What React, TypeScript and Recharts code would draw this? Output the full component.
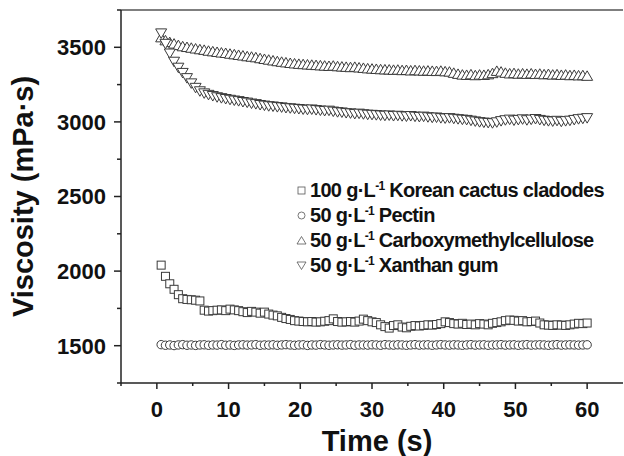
import React from 'react';
import { ScatterChart, Scatter, XAxis, YAxis, ReferenceLine } from 'recharts';

const time = [
  0.6, 1.2, 1.8, 2.4, 3, 3.6, 4.2, 4.8, 5.4, 6,
  6.6, 7.2, 7.8, 8.4, 9, 9.6, 10.2, 10.8, 11.4, 12,
  12.6, 13.2, 13.8, 14.4, 15, 15.6, 16.2, 16.8, 17.4, 18,
  18.6, 19.2, 19.8, 20.4, 21, 21.6, 22.2, 22.8, 23.4, 24,
  24.6, 25.2, 25.8, 26.4, 27, 27.6, 28.2, 28.8, 29.4, 30,
  30.6, 31.2, 31.8, 32.4, 33, 33.6, 34.2, 34.8, 35.4, 36,
  36.6, 37.2, 37.8, 38.4, 39, 39.6, 40.2, 40.8, 41.4, 42,
  42.6, 43.2, 43.8, 44.4, 45, 45.6, 46.2, 46.8, 47.4, 48,
  48.6, 49.2, 49.8, 50.4, 51, 51.6, 52.2, 52.8, 53.4, 54,
  54.6, 55.2, 55.8, 56.4, 57, 57.6, 58.2, 58.8, 59.4, 60,
];

const cactus = [
  2040, 1965, 1915, 1878, 1842, 1815, 1810, 1808, 1805, 1800,
  1738, 1732, 1735, 1738, 1740, 1735, 1745, 1740, 1735, 1728,
  1722, 1730, 1725, 1718, 1725, 1712, 1705, 1700, 1690, 1682,
  1676, 1668, 1665, 1662, 1660, 1662, 1658, 1660, 1664, 1668,
  1680, 1662, 1658, 1660, 1662, 1658, 1665, 1678, 1668, 1660,
  1655, 1640, 1628, 1618, 1635, 1640, 1625, 1620, 1630, 1635,
  1632, 1636, 1640, 1638, 1642, 1648, 1660, 1655, 1648, 1645,
  1650, 1642, 1645, 1640, 1648, 1645, 1640, 1650, 1655, 1660,
  1668, 1672, 1670, 1665, 1668, 1660, 1662, 1665, 1652, 1640,
  1638, 1636, 1640, 1638, 1636, 1640, 1645, 1650, 1648, 1652,
];

const pectin = [
  1507, 1503, 1505, 1501, 1505, 1507, 1503, 1505, 1502, 1505,
  1506, 1503, 1505, 1504, 1507, 1503, 1505, 1502, 1505, 1506,
  1504, 1505, 1507, 1503, 1505, 1504, 1506, 1503, 1505, 1507,
  1505, 1503, 1505, 1506, 1502, 1505, 1504, 1507, 1505, 1503,
  1505, 1506, 1504, 1505, 1507, 1503, 1505, 1505, 1504, 1506,
  1505, 1503, 1507, 1505, 1504, 1506, 1505, 1503, 1505, 1507,
  1504, 1505, 1506, 1503, 1505, 1507, 1505, 1504, 1506, 1505,
  1503, 1505, 1507, 1504, 1505, 1506, 1503, 1505, 1505, 1507,
  1504, 1505, 1506, 1503, 1505, 1507, 1504, 1505, 1506, 1505,
  1503, 1505, 1507, 1504, 1505, 1506, 1505, 1504, 1505, 1506,
];

const cmc = [
  3560, 3540, 3528, 3518, 3508, 3500, 3495, 3490, 3485, 3480,
  3476, 3470, 3466, 3462, 3458, 3455, 3450, 3446, 3442, 3438,
  3433, 3430, 3426, 3420, 3415, 3410, 3405, 3400, 3396, 3392,
  3388, 3385, 3382, 3380, 3378, 3376, 3374, 3372, 3370, 3368,
  3370, 3366, 3364, 3362, 3360, 3362, 3358, 3355, 3352, 3350,
  3348, 3346, 3345, 3344, 3342, 3343, 3340, 3341, 3338, 3340,
  3338, 3336, 3337, 3335, 3334, 3336, 3332, 3330, 3322, 3315,
  3310, 3308, 3312, 3306, 3310, 3308, 3312, 3320, 3335, 3330,
  3322, 3318, 3320, 3316, 3318, 3315, 3318, 3314, 3316, 3312,
  3314, 3310, 3312, 3308, 3310, 3306, 3308, 3305, 3306, 3302,
];

const xanthan = [
  3600, 3530, 3465, 3410, 3370, 3335, 3300, 3265, 3235, 3212,
  3198, 3188, 3180, 3172, 3166, 3160, 3155, 3150, 3146, 3140,
  3136, 3130, 3126, 3120, 3116, 3112, 3110, 3106, 3104, 3100,
  3098, 3095, 3093, 3090, 3088, 3090, 3086, 3083, 3080, 3082,
  3076, 3072, 3070, 3066, 3064, 3060, 3062, 3058, 3055, 3054,
  3052, 3050, 3048, 3050, 3046, 3048, 3045, 3043, 3046, 3042,
  3040, 3042, 3038, 3035, 3036, 3032, 3030, 3032, 3028, 3025,
  3022, 3020, 3015, 3010, 3005, 3002, 3000, 2998, 3004, 3012,
  3018, 3022, 3016, 3020, 3024, 3018, 3022, 3026, 3020, 3015,
  3012, 3010, 3014, 3008, 3012, 3015, 3020, 3025, 3028, 3032,
];

const xTicks = [-5, 0, 5, 10, 15, 20, 25, 30, 35, 40, 45, 50, 55, 60];
const yTicks = [1250, 1500, 1750, 2000, 2250, 2500, 2750, 3000, 3250, 3500, 3750];

const FONT = '"Liberation Sans", Arial, sans-serif';
const MARK = '#3a3a3a';
const AXIS = '#222';

const toPoints = (vals: number[]) => time.map((t, i) => ({ t, v: vals[i] }));

// marker shapes (cx/cy come from the scatter's scales)
const Square = (p: any) => (
  <rect x={p.cx - 4} y={p.cy - 4} width={8} height={8} fill="#fff" stroke={MARK} strokeWidth={1} />
);
const Circle = (p: any) => <circle cx={p.cx} cy={p.cy} r={4.2} fill="#fff" stroke={MARK} strokeWidth={1} />;
const TriUp = (p: any) => (
  <polygon
    points={`${p.cx},${p.cy - 6} ${p.cx + 5.5},${p.cy + 3.5} ${p.cx - 5.5},${p.cy + 3.5}`}
    fill="#fff"
    stroke={MARK}
    strokeWidth={1}
  />
);
const TriDown = (p: any) => (
  <polygon
    points={`${p.cx - 5.5},${p.cy - 3.5} ${p.cx + 5.5},${p.cy - 3.5} ${p.cx},${p.cy + 6}`}
    fill="#fff"
    stroke={MARK}
    strokeWidth={1}
  />
);

const XTick = ({ x, y, payload }: any) => {
  const major = payload.value % 10 === 0;
  return (
    <g>
      <line x1={x} y1={y} x2={x} y2={y + (major ? 6 : 3)} stroke={AXIS} strokeWidth={1.5} />
      {major && (
        <text x={x} y={y + 18} dy="0.71em" textAnchor="middle" fontSize={22} fontWeight="bold" fontFamily={FONT} fill="#111">
          {payload.value}
        </text>
      )}
    </g>
  );
};

const YTick = ({ x, y, payload }: any) => {
  const major = payload.value % 500 === 0;
  return (
    <g>
      <line x1={x} y1={y} x2={x - (major ? 7 : 4)} y2={y} stroke={AXIS} strokeWidth={1.5} />
      {major && (
        <text x={x - 15} y={y} dy="0.355em" textAnchor="end" fontSize={22} fontWeight="bold" fontFamily={FONT} fill="#111">
          {payload.value}
        </text>
      )}
    </g>
  );
};

const legendRows = [
  { conc: '100', name: 'Korean cactus cladodes', icon: 'square' },
  { conc: '50', name: 'Pectin', icon: 'circle' },
  { conc: '50', name: 'Carboxymethylcellulose', icon: 'up' },
  { conc: '50', name: 'Xanthan gum', icon: 'down' },
];

const LegendIcon = ({ icon }: { icon: string }) => (
  <svg width={9} height={9} style={{ marginRight: 4, overflow: 'visible' }}>
    {icon === 'square' && <rect x={1} y={1} width={7} height={7} fill="#fff" stroke="#555" strokeWidth={0.8} />}
    {icon === 'circle' && <circle cx={4.5} cy={4.5} r={3.5} fill="#fff" stroke="#555" strokeWidth={0.8} />}
    {icon === 'up' && <polygon points="4.5,0.5 9,8 0,8" fill="#fff" stroke="#555" strokeWidth={0.8} />}
    {icon === 'down' && <polygon points="0,1 9,1 4.5,8.5" fill="#fff" stroke="#555" strokeWidth={0.8} />}
  </svg>
);

export default function App() {
  return (
    <div style={{ position: 'absolute', left: 0, top: 0, width: 624, height: 456, background: '#fff', fontFamily: FONT }}>
      <ScatterChart width={624} height={456} margin={{ top: 10, right: 1, bottom: 0, left: 0 }}>
        <XAxis
          dataKey="t"
          type="number"
          domain={[-5, 65]}
          ticks={xTicks}
          interval={0}
          height={73}
          tickSize={0}
          tickMargin={0}
          tickLine={false}
          tick={XTick}
          axisLine={{ stroke: AXIS, strokeWidth: 1.5 }}
          allowDataOverflow
          label={{
            value: 'Time (s)',
            position: 'insideBottom',
            offset: 5,
            dx: 5,
            style: { fontSize: 29, fontWeight: 'bold', fill: '#111', fontFamily: FONT },
          }}
        />
        <YAxis
          dataKey="v"
          type="number"
          domain={[1250, 3750]}
          ticks={yTicks}
          interval={0}
          width={121}
          tickSize={0}
          tickMargin={0}
          tickLine={false}
          tick={YTick}
          axisLine={{ stroke: AXIS, strokeWidth: 1.5 }}
          allowDataOverflow
          label={{
            value: 'Viscosity (mPa·s)',
            angle: -90,
            position: 'insideLeft',
            offset: 23,
            style: { textAnchor: 'middle', fontSize: 29, fontWeight: 'bold', fill: '#111', fontFamily: FONT },
          }}
        />
        <ReferenceLine y={3750} stroke="#555" strokeWidth={1.5} />
        <Scatter name="cactus" data={toPoints(cactus)} shape={Square} isAnimationActive={false} />
        <Scatter name="pectin" data={toPoints(pectin)} shape={Circle} isAnimationActive={false} />
        <Scatter name="cmc" data={toPoints(cmc)} shape={TriUp} isAnimationActive={false} />
        <Scatter name="xanthan" data={toPoints(xanthan)} shape={TriDown} isAnimationActive={false} />
      </ScatterChart>

      <div style={{ position: 'absolute', left: 297, top: 178 }}>
        {legendRows.map((r) => (
          <div
            key={r.name}
            style={{ height: 25, display: 'flex', alignItems: 'center', fontSize: 20, fontWeight: 'bold', color: '#111', whiteSpace: 'nowrap', letterSpacing: -0.7 }}
          >
            <LegendIcon icon={r.icon} />
            <span>
              {r.conc} g·L
              <span style={{ fontSize: 12, position: 'relative', top: -7 }}>-1</span> {r.name}
            </span>
          </div>
        ))}
      </div>
    </div>
  );
}
